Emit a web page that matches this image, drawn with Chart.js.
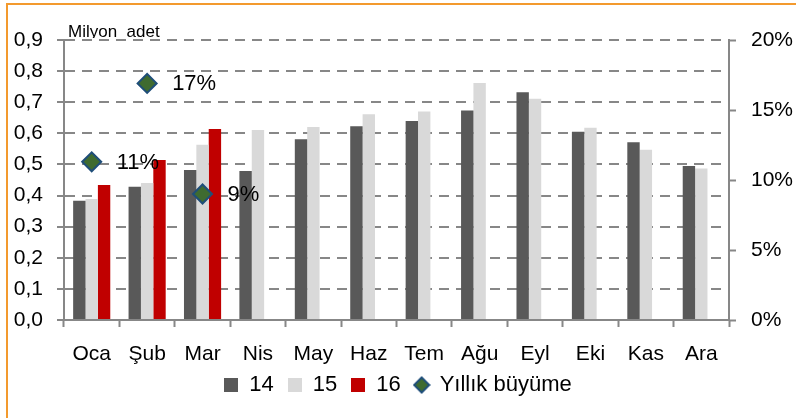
<!DOCTYPE html>
<html>
<head>
<meta charset="utf-8">
<script src="https://cdn.jsdelivr.net/npm/chart.js@4/dist/chart.umd.min.js"></script>
<style>
  html, body { margin: 0; padding: 0; background: #ffffff; }
  #wrap { width: 796px; height: 418px; position: relative; }
</style>
</head>
<body>
<div id="wrap"><canvas id="c" width="796" height="418"></canvas></div>
<script>
const categories = ['Oca', 'Şub', 'Mar', 'Nis', 'May', 'Haz', 'Tem', 'Ağu', 'Eyl', 'Eki', 'Kas', 'Ara'];
const series14 = [0.383, 0.428, 0.482, 0.479, 0.581, 0.623, 0.640, 0.673, 0.732, 0.605, 0.571, 0.495];
const series15 = [0.389, 0.440, 0.563, 0.611, 0.620, 0.661, 0.670, 0.762, 0.711, 0.618, 0.547, 0.487];
const series16 = [0.434, 0.514, 0.614, null, null, null, null, null, null, null, null, null];
const growth = [11.3, 16.9, 9.0, null, null, null, null, null, null, null, null, null];
const seriesNames = ['14', '15', '16', 'Yıllık büyüme'];
const leftTicks = { min: 0, max: 0.9, step: 0.1 };
const rightTicks = { min: 0, max: 20, step: 5 };
const unitLabel = 'Milyon_adet';

const FONT = "'Liberation Sans', Arial, sans-serif";
const GRID = '#878787';
const C14 = '#595959', C15 = '#d9d9d9', C16 = '#c00000';
const DIA_FILL = '#3f6b30', DIA_BORDER = '#1f4e79';

function squareIcon(color) {
  const cv = document.createElement('canvas');
  cv.width = 14; cv.height = 14;
  const g = cv.getContext('2d');
  g.fillStyle = color; g.fillRect(0, 0, 14, 14);
  return cv;
}
function diamondIcon() {
  const cv = document.createElement('canvas');
  cv.width = 18; cv.height = 18;
  const g = cv.getContext('2d');
  g.beginPath();
  g.moveTo(9, 1.5); g.lineTo(16.5, 9); g.lineTo(9, 16.5); g.lineTo(1.5, 9); g.closePath();
  g.fillStyle = DIA_FILL; g.fill();
  g.lineWidth = 2; g.strokeStyle = DIA_BORDER; g.stroke();
  return cv;
}
const icons = [squareIcon(C14), squareIcon(C15), squareIcon(C16), diamondIcon()];

const decor = {
  id: 'decor',
  afterLayout(chart) {
    const lg = chart.legend;
    if (lg) { lg.top -= 6; lg.bottom -= 6; }
  },
  beforeDraw(chart) {
    const ctx = chart.ctx;
    ctx.save();
    ctx.fillStyle = '#ffffff';
    ctx.fillRect(0, 0, chart.width, chart.height);
    ctx.strokeStyle = '#f39a2e';
    ctx.lineWidth = 2;
    ctx.beginPath();
    ctx.moveTo(7, chart.height);
    ctx.lineTo(7, 4);
    ctx.lineTo(chart.width, 4);
    ctx.stroke();
    ctx.restore();
  },
  afterDraw(chart) {
    const ctx = chart.ctx;
    const a = chart.chartArea;
    ctx.save();
    ctx.beginPath();
    ctx.rect(0, 0, chart.width, a.top - 2);
    ctx.clip();
    ctx.fillStyle = '#000000';
    ctx.font = '17px ' + FONT;
    ctx.textBaseline = 'alphabetic';
    ctx.textAlign = 'left';
    ctx.fillText(unitLabel, a.left + 4, a.top - 3);
    ctx.restore();
  },
  afterDatasetsDraw(chart) {
    const ctx = chart.ctx;
    const meta = chart.getDatasetMeta(3);
    ctx.save();
    ctx.fillStyle = '#000000';
    ctx.font = '22px ' + FONT;
    ctx.textBaseline = 'middle';
    ctx.textAlign = 'left';
    meta.data.forEach((pt, i) => {
      const v = growth[i];
      if (v === null || v === undefined) return;
      ctx.fillText(Math.round(v) + '%', pt.x + 25, pt.y + 1);
    });
    ctx.restore();
  }
};

new Chart(document.getElementById('c'), {
  data: {
    labels: categories,
    datasets: [
      { type: 'bar', label: seriesNames[0], data: series14, backgroundColor: C14, yAxisID: 'y', order: 1, borderWidth: 0 },
      { type: 'bar', label: seriesNames[1], data: series15, backgroundColor: C15, yAxisID: 'y', order: 1, borderWidth: 0 },
      { type: 'bar', label: seriesNames[2], data: series16, backgroundColor: C16, yAxisID: 'y', order: 1, borderWidth: 0 },
      { type: 'line', label: seriesNames[3], data: growth, yAxisID: 'y1', order: 0, showLine: false,
        pointStyle: 'rectRot', pointRadius: 9.5, pointHoverRadius: 9.5,
        pointBackgroundColor: DIA_FILL, pointBorderColor: DIA_BORDER, pointBorderWidth: 2,
        backgroundColor: DIA_FILL, borderColor: DIA_BORDER }
    ]
  },
  options: {
    responsive: false,
    animation: false,
    events: [],
    layout: { padding: { top: 40, left: 0, right: 0, bottom: 6 } },
    datasets: { bar: { categoryPercentage: 0.67, barPercentage: 1.0 } },
    plugins: {
      tooltip: { enabled: false },
      legend: {
        position: 'bottom',
        labels: {
          usePointStyle: true,
          boxWidth: 14, boxHeight: 14,
          padding: 14,
          color: '#000000',
          font: { family: FONT, size: 22 },
          generateLabels(chart) {
            return chart.data.datasets.map((ds, i) => ({
              text: ds.label,
              datasetIndex: i,
              pointStyle: icons[i],
              fillStyle: 'transparent',
              strokeStyle: 'transparent',
              lineWidth: 0,
              hidden: false,
              fontColor: '#000000'
            }));
          },
          sort: (a, b) => a.datasetIndex - b.datasetIndex
        }
      }
    },
    scales: {
      x: {
        position: 'bottom',
        grid: { offset: true, drawOnChartArea: false, drawTicks: true, tickLength: 7, tickColor: GRID, tickWidth: 2 },
        border: { color: GRID, width: 2 },
        ticks: { color: '#000000', font: { family: FONT, size: 21 }, padding: 15, maxRotation: 0, autoSkip: false },
        afterFit(s) { s.height = 46; }
      },
      y: {
        position: 'left',
        min: leftTicks.min, max: leftTicks.max,
        grid: {
          color: (c) => (c.tick && Math.abs(c.tick.value) < 1e-9) ? 'rgba(0,0,0,0)' : GRID,
          lineWidth: 2,
          drawTicks: true, tickLength: 7, tickColor: GRID, tickWidth: 2, tickBorderDash: []
        },
        border: { color: GRID, width: 2, dash: [10, 7] },
        ticks: {
          stepSize: leftTicks.step,
          color: '#000000', font: { family: FONT, size: 21 }, padding: 14,
          callback: (v) => Number(v).toFixed(1).replace('.', ',')
        },
        afterFit(s) { s.width = 64; }
      },
      y1: {
        position: 'right',
        min: rightTicks.min, max: rightTicks.max,
        grid: { drawOnChartArea: false, drawTicks: true, tickLength: 7, tickColor: GRID, tickWidth: 2 },
        border: { color: GRID, width: 2 },
        ticks: {
          stepSize: rightTicks.step,
          color: '#000000', font: { family: FONT, size: 21 }, padding: 15,
          callback: (v) => v + '%'
        },
        afterFit(s) { s.width = 67; }
      }
    }
  },
  plugins: [decor]
});
</script>
</body>
</html>
